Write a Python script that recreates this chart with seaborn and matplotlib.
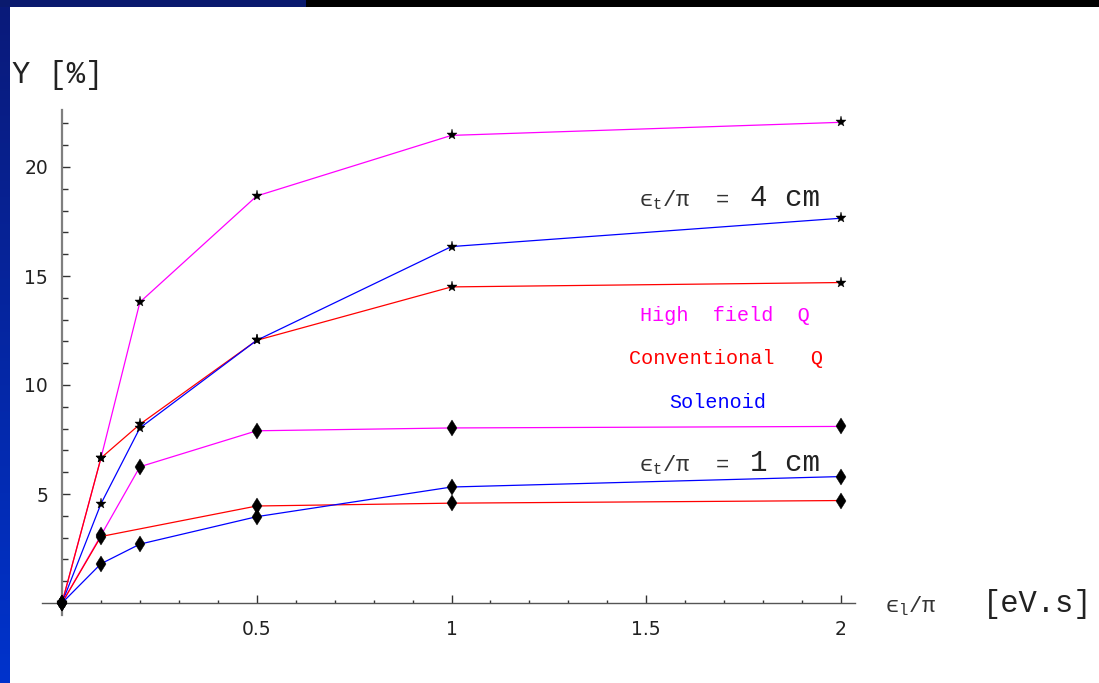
import matplotlib
matplotlib.use("Agg")
import matplotlib.pyplot as plt
import seaborn as sns
import numpy as np
import pandas as pd
from matplotlib.colors import LinearSegmentedColormap
from matplotlib.patches import Rectangle

# emittance eps_l/pi [eV.s]
x_full = [0, 0.1, 0.2, 0.5, 1, 2]
x_conv_1cm = [0, 0.1, 0.5, 1, 2]

# eps_t/pi = 4 cm  (stars)
hf_4cm = [0, 6.65, 13.8, 18.67, 21.45, 22.05]
conv_4cm = [0, 6.65, 8.2, 12.05, 14.5, 14.7]
sol_4cm = [0, 4.55, 8.03, 12.05, 16.35, 17.65]

# eps_t/pi = 1 cm  (diamonds)
hf_1cm = [0, 3.1, 6.25, 7.9, 8.03, 8.1]
conv_1cm = [0, 3.05, 4.45, 4.58, 4.7]
sol_1cm = [0, 1.8, 2.7, 3.96, 5.32, 5.8]

series_names = ["High  field  Q", "Conventional   Q", "Solenoid"]
series_colors = ["#ff00ff", "#ff0000", "#0000ff"]

W, H = 1099, 683
sns.set_style("white")
plt.rcParams["mathtext.fontset"] = "custom"
plt.rcParams["mathtext.rm"] = "Liberation Mono"
plt.rcParams["mathtext.it"] = "Liberation Mono"
plt.rcParams["mathtext.fallback"] = "stix"

fig = plt.figure(figsize=(W / 100, H / 100), dpi=100)
fig.patch.set_facecolor("white")

# slide decoration: top band and left gradient strip
fig.patches.append(Rectangle((0, 1 - 7 / H), 306 / W, 7 / H, transform=fig.transFigure,
                             facecolor="#0a1a6e", edgecolor="none", zorder=0))
fig.patches.append(Rectangle((306 / W, 1 - 7 / H), 1 - 306 / W, 7 / H, transform=fig.transFigure,
                             facecolor="black", edgecolor="none", zorder=0))
strip = fig.add_axes([0, 0, 10 / W, 1 - 7 / H])
strip.imshow(np.linspace(0, 1, 256).reshape(-1, 1), aspect="auto",
             cmap=LinearSegmentedColormap.from_list("bg", ["#0a1a7a", "#0033cc"]))
strip.axis("off")

# axes geometry: x=0 at px 62, 389.5 px/unit ; y=0 at px 603, 21.8 px/unit
px_x, px_y = 389.5, 21.8
x0px, y0px = 62, 603
left_px, right_px, top_px, bot_px = 42, 855, 110, 615
ax = fig.add_axes([left_px / W, 1 - bot_px / H, (right_px - left_px) / W, (bot_px - top_px) / H])
ax.set_xlim((left_px - x0px) / px_x, (right_px - x0px) / px_x)
ax.set_ylim((y0px - bot_px) / px_y, (y0px - top_px) / px_y)
ax.patch.set_alpha(0)

groups = [
    ([x_full, x_full, x_full], [hf_4cm, conv_4cm, sol_4cm], "*", 8),
    ([x_full, x_conv_1cm, x_full], [hf_1cm, conv_1cm, sol_1cm], "d", 8.5),
]
for xs_list, ys_list, marker, ms in groups:
    for i, (xv, ys) in enumerate(zip(xs_list, ys_list)):
        df = pd.DataFrame({"x": xv, "y": ys})
        sns.lineplot(data=df, x="x", y="y", ax=ax, color=series_colors[i], lw=0.9,
                     marker=marker, markersize=ms, markerfacecolor="black",
                     markeredgecolor="black", markeredgewidth=0.3, sort=False,
                     estimator=None, clip_on=False, zorder=3)

ax.set_xlabel("")
ax.set_ylabel("")
for s in ["top", "right"]:
    ax.spines[s].set_visible(False)
ax.spines["left"].set_position(("data", 0))
ax.spines["bottom"].set_position(("data", 0))
ax.spines["left"].set_color("#7f7f7f")
ax.spines["left"].set_linewidth(1.6)
ax.spines["bottom"].set_color("#555555")
ax.spines["bottom"].set_linewidth(1.0)

ax.set_xticks([0.5, 1, 1.5, 2])
ax.set_xticklabels(["0.5", "1", "1.5", "2"])
ax.set_xticks(np.arange(0.1, 2.01, 0.1), minor=True)
ax.set_yticks([5, 10, 15, 20])
ax.set_yticklabels(["5", "10", "15", "20"])
ax.set_yticks(np.arange(1, 23, 1), minor=True)
ax.tick_params(axis="both", which="both", direction="in", colors="#333333",
               labelsize=13.5, labelcolor="#222222", bottom=True, left=True)
ax.tick_params(axis="x", which="major", length=6, width=1, pad=12)
ax.tick_params(axis="x", which="minor", length=2.5, width=1)
ax.tick_params(axis="y", which="major", length=6, width=1, pad=10)
ax.tick_params(axis="y", which="minor", length=4, width=1)


def dx(px):
    return (px - x0px) / px_x


def dy(py):
    return (y0px - py) / px_y


mono = ["Liberation Mono", "DejaVu Sans Mono"]
txt = "#333333"

# axis titles
fig.text(12 / W, 1 - 75 / H, "Y [%]", family=mono, fontsize=22, color="#222222",
         ha="left", va="center")
ax.text(dx(885), dy(612), "$\u03f5_l/\\pi$", family=mono, fontsize=16, color=txt,
        ha="left", va="baseline", clip_on=False)
ax.text(dx(983), dy(612), "[eV.s]", family=mono, fontsize=22, color="#222222",
        ha="left", va="baseline", clip_on=False)

# emittance annotations
for base, val in [(206, "4 cm"), (471, "1 cm")]:
    ax.text(dx(730), dy(base), "$\u03f5_t/\\pi$  =", family=mono, fontsize=16, color=txt,
            ha="right", va="baseline")
    ax.text(dx(750), dy(base), val, family=mono, fontsize=21, color="#222222",
            ha="left", va="baseline")

# legend-like labels
for name, col, cx, cy in zip(series_names, series_colors, [725, 726, 718], [315, 358, 403]):
    ax.text(dx(cx), dy(cy), name, family=mono, fontsize=14.5, color=col,
            ha="center", va="center")

fig.savefig("out.png", dpi=100)
